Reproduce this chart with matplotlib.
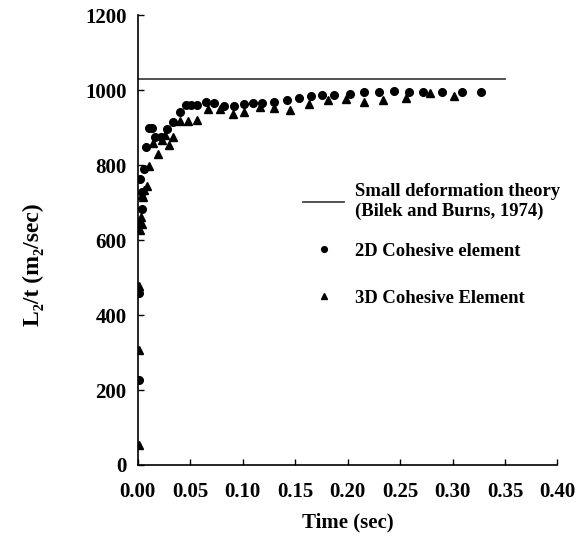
import matplotlib
matplotlib.use('Agg')
from matplotlib import pyplot as plt

# small deformation theory (Bilek and Burns, 1974)
theory_t = [0.0, 0.35]
theory_v = [1030, 1030]

# 2D cohesive element
t_2d = [0.001, 0.001, 0.001, 0.004, 0.002, 0.004, 0.006, 0.008, 0.011, 0.014,
        0.017, 0.022, 0.028, 0.034, 0.040, 0.046, 0.051, 0.057, 0.065, 0.073,
        0.082, 0.092, 0.101, 0.110, 0.119, 0.130, 0.142, 0.154, 0.165, 0.176,
        0.187, 0.202, 0.216, 0.230, 0.244, 0.259, 0.272, 0.290, 0.309, 0.327]
v_2d = [227, 458, 645, 683, 763, 729, 789, 847, 899, 899,
        876, 876, 896, 916, 941, 959, 961, 961, 967, 965,
        958, 957, 962, 966, 966, 967, 973, 980, 985, 988,
        988, 990, 994, 996, 997, 996, 995, 995, 995, 996]

# 3D cohesive element
t_3d = [0.001, 0.001, 0.001, 0.002, 0.004, 0.003, 0.004, 0.005, 0.006, 0.009,
        0.011, 0.015, 0.019, 0.023, 0.026, 0.030, 0.034, 0.040, 0.048, 0.057,
        0.067, 0.079, 0.091, 0.101, 0.117, 0.130, 0.145, 0.163, 0.181, 0.199,
        0.216, 0.234, 0.256, 0.279, 0.301]
v_3d = [53, 307, 478, 627, 644, 662, 720, 716, 733, 744,
        797, 859, 829, 867, 880, 853, 876, 917, 917, 920,
        949, 949, 936, 942, 956, 953, 947, 962, 973, 975,
        969, 973, 980, 991, 984]

xticks = [0.0, 0.05, 0.10, 0.15, 0.20, 0.25, 0.30, 0.35, 0.40]
yticks = [0, 200, 400, 600, 800, 1000, 1200]

plt.rcParams['font.family'] = ['Liberation Serif', 'DejaVu Serif']
plt.rcParams['font.weight'] = 'bold'

fig = plt.figure(figsize=(5.78, 5.38), dpi=100)
ax = fig.add_axes([0.238, 0.1357, 0.7265, 0.8363])

theory, = ax.plot(theory_t, theory_v, color='#444444', linewidth=1.3)
pts2d, = ax.plot(t_2d, v_2d, 'o', color='black', markersize=5.5, linestyle='none')
pts3d, = ax.plot(t_3d, v_3d, '^', color='black', markersize=5.5, linestyle='none')

ax.set_xlim(0, 0.40)
ax.set_ylim(0, 1200)
ax.set_xticks(xticks)
ax.set_xticklabels(['%.2f' % v for v in xticks])
ax.set_yticks(yticks)
ax.tick_params(direction='in', length=4, width=1, labelsize=15)
ax.tick_params(axis='x', pad=12)
ax.tick_params(axis='y', pad=8)
for lab in ax.get_xticklabels() + ax.get_yticklabels():
    lab.set_fontweight('bold')

ax.spines['top'].set_visible(False)
ax.spines['right'].set_visible(False)
ax.spines['left'].set_linewidth(1.2)
ax.spines['bottom'].set_linewidth(1.2)

ax.set_xlabel('Time (sec)', fontsize=15, fontweight='bold', labelpad=8)
ax.set_ylabel('L\u2082/t (m\u2082/sec)', fontsize=17, fontweight='bold')
ax.yaxis.set_label_coords(-0.222, 0.445)

leg1 = ax.legend([theory], ['Small deformation theory\n(Bilek and Burns, 1974)'],
                 loc='upper left', bbox_to_anchor=(0.355, 0.663), frameon=False,
                 fontsize=13.4, handlelength=2.2, handletextpad=0.6)
ax.add_artist(leg1)
ax.legend([pts2d, pts3d], ['2D Cohesive element', '3D Cohesive Element'],
          loc='upper left', bbox_to_anchor=(0.355, 0.531), frameon=False,
          fontsize=13.4, handlelength=2.2, handletextpad=0.6,
          labelspacing=1.6, markerscale=0.75)

fig.savefig('out.png', dpi=100)
